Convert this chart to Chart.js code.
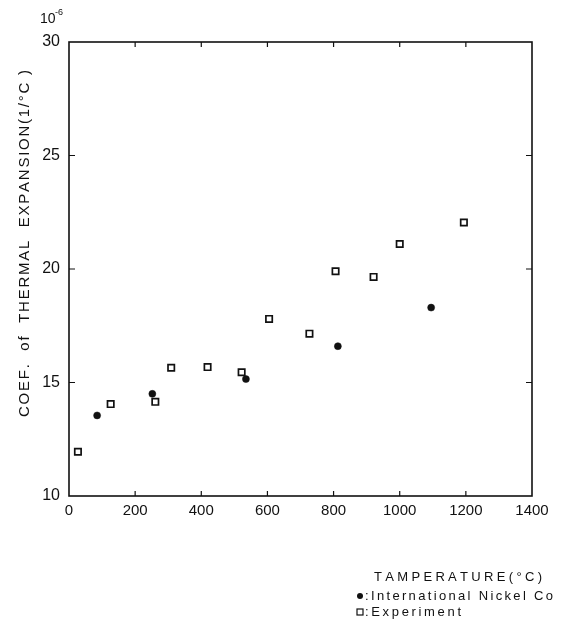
<!DOCTYPE html>
<html>
<head>
<meta charset="utf-8">
<script src="https://cdn.jsdelivr.net/npm/chart.js@4.4.1/dist/chart.umd.min.js"></script>
<style>
  html, body { margin: 0; padding: 0; background: #fff; }
  #wrap { width: 570px; height: 619px; position: relative; }
</style>
</head>
<body>
<div id="wrap"><canvas id="c" width="570" height="619"></canvas></div>
<script>
// ---- data ----
const experimentX = [27, 126, 261, 309, 419, 522, 605, 727, 806, 921, 1000, 1194];
const experimentY = [11.95, 14.05, 14.15, 15.65, 15.68, 15.45, 17.8, 17.15, 19.9, 19.65, 21.1, 22.05];
const nickelX = [85, 252, 535, 813, 1095];
const nickelY = [13.55, 14.5, 15.15, 16.6, 18.3];
const xTickValues = [0, 200, 400, 600, 800, 1000, 1200, 1400];
const yTickValues = [10, 15, 20, 25, 30];
const seriesNames = ['International Nickel Co', 'Experiment'];
const yTitle = 'COEF.  of  THERMAL  EXPANSION(1/°C )';
const xTitle = 'TAMPERATURE(°C)';

const FONT = '"Liberation Sans", Arial, Helvetica, sans-serif';

function toPoints(xs, ys) { return xs.map((x, i) => ({ x: x, y: ys[i] })); }

function spacedText(ctx, text, x, y, width) {
  const chars = [...text];
  const ws = chars.map(ch => ctx.measureText(ch).width);
  const total = ws.reduce((a, b) => a + b, 0);
  const gap = chars.length > 1 ? Math.max(0, (width - total) / (chars.length - 1)) : 0;
  let cx = x;
  chars.forEach((ch, i) => { ctx.fillText(ch, cx, y); cx += ws[i] + gap; });
}

const framePlugin = {
  id: 'frame',
  afterDraw(chart) {
    const ctx = chart.ctx;
    const a = chart.chartArea;
    const xs = chart.scales.x, ys = chart.scales.y;
    ctx.save();
    ctx.strokeStyle = '#111';
    ctx.lineWidth = 1.6;
    ctx.strokeRect(a.left, a.top, a.right - a.left, a.bottom - a.top);
    ctx.lineWidth = 1.2;
    ctx.beginPath();
    xs.ticks.forEach(t => {
      const px = xs.getPixelForValue(t.value);
      if (t.value === xs.min || t.value === xs.max) return;
      ctx.moveTo(px, a.bottom); ctx.lineTo(px, a.bottom - 5);
      ctx.moveTo(px, a.top); ctx.lineTo(px, a.top + 5);
    });
    ys.ticks.forEach(t => {
      const py = ys.getPixelForValue(t.value);
      if (t.value === ys.min || t.value === ys.max) return;
      ctx.moveTo(a.left, py); ctx.lineTo(a.left + 6, py);
      ctx.moveTo(a.right, py); ctx.lineTo(a.right - 6, py);
    });
    ctx.stroke();

    ctx.fillStyle = '#111';
    ctx.textBaseline = 'middle';
    ctx.textAlign = 'left';
    // exponent label
    ctx.font = '14px ' + FONT;
    ctx.fillText('10', 40, 19);
    ctx.font = '9px ' + FONT;
    ctx.fillText('-6', 55, 13);

    // y title
    ctx.save();
    ctx.translate(25, 417);
    ctx.rotate(-Math.PI / 2);
    ctx.font = '15px ' + FONT;
    spacedText(ctx, yTitle, 0, 0, 347);
    ctx.restore();

    // x title
    ctx.font = '13px ' + FONT;
    spacedText(ctx, xTitle, 374, 577, 168);

    // legend
    ctx.font = '13px ' + FONT;
    ctx.beginPath();
    ctx.arc(360, 596, 3, 0, Math.PI * 2);
    ctx.fill();
    spacedText(ctx, ':' + seriesNames[0], 365, 596, 188);
    ctx.lineWidth = 1.2;
    ctx.strokeRect(357, 609, 6, 6);
    spacedText(ctx, ':' + seriesNames[1], 365, 612, 96);
    ctx.restore();
  }
};

new Chart(document.getElementById('c'), {
  type: 'scatter',
  data: {
    datasets: [
      {
        label: seriesNames[0],
        data: toPoints(nickelX, nickelY),
        pointStyle: 'circle',
        pointRadius: 3.5,
        pointHoverRadius: 3.5,
        backgroundColor: '#111',
        borderColor: '#111',
        borderWidth: 0.5
      },
      {
        label: seriesNames[1],
        data: toPoints(experimentX, experimentY),
        pointStyle: 'rect',
        pointRadius: 4.5,
        pointHoverRadius: 4.5,
        backgroundColor: '#fff',
        borderColor: '#111',
        borderWidth: 1.7
      }
    ]
  },
  options: {
    responsive: false,
    animation: false,
    events: [],
    layout: { padding: { left: 0, right: 38, top: 42, bottom: 0 } },
    plugins: { legend: { display: false }, tooltip: { enabled: false }, title: { display: false } },
    scales: {
      x: {
        type: 'linear',
        min: 0, max: 1400,
        afterBuildTicks(scale) { scale.ticks = xTickValues.map(v => ({ value: v })); },
        afterFit(scale) { scale.height = 123; },
        grid: { display: false, drawTicks: false },
        border: { display: false },
        ticks: { color: '#111', font: { family: FONT, size: 15 }, padding: 6, maxRotation: 0, autoSkip: false,
                 callback: v => String(v) }
      },
      y: {
        type: 'linear',
        min: 10, max: 30,
        afterBuildTicks(scale) { scale.ticks = yTickValues.map(v => ({ value: v })); },
        afterFit(scale) { scale.width = 69; },
        grid: { display: false, drawTicks: false },
        border: { display: false },
        ticks: { color: '#111', font: { family: FONT, size: 16 }, padding: 9, callback: v => String(v) }
      }
    }
  },
  plugins: [framePlugin]
});
</script>
</body>
</html>
